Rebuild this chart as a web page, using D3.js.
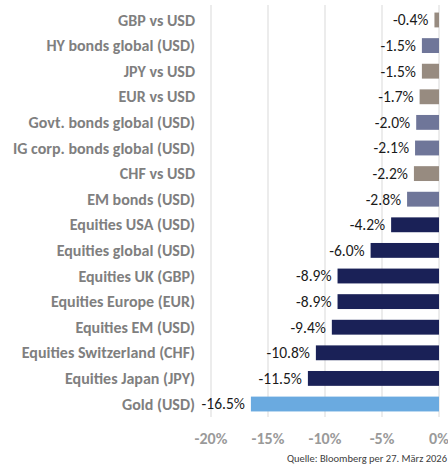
<!DOCTYPE html>
<html>
<head>
<meta charset="utf-8">
<script src="https://cdn.jsdelivr.net/npm/d3@7"></script>
<style>
  body { margin: 0; background: #fff; }
  svg { display: block; font-family: Carlito, Lato, "Open Sans", sans-serif; }
</style>
</head>
<body>
<svg id="svg"></svg>
<script>
const width = 448;
const height = 469;

// data
const categories = [
    "GBP vs USD", "HY bonds global (USD)", "JPY vs USD", "EUR vs USD",
    "Govt. bonds global (USD)", "IG corp. bonds global (USD)", "CHF vs USD",
    "EM bonds (USD)", "Equities USA (USD)", "Equities global (USD)",
    "Equities UK (GBP)", "Equities Europe (EUR)", "Equities EM (USD)",
    "Equities Switzerland (CHF)", "Equities Japan (JPY)", "Gold (USD)"
];
const values = [-0.4, -1.5, -1.5, -1.7, -2.0, -2.1, -2.2, -2.8, -4.2, -6.0, -8.9, -8.9, -9.4, -10.8, -11.5, -16.5];
const groups = ["fx", "bond", "fx", "fx", "bond", "bond", "fx", "bond", "eq", "eq", "eq", "eq", "eq", "eq", "eq", "gold"];
const xTicks = [-20, -15, -10, -5, 0];
const sourceText = "Quelle: Bloomberg per 27. März 2026";

const colours = { fx: "#978b80", bond: "#6f7699", eq: "#1a2157", gold: "#6aaae0" };

const data = categories.map((c, i) => ({ name: c, value: values[i], group: groups[i] }));

// plain hyphen as minus, like the original
const fmt = v => d3.format(".1f")(v).replace("\u2212", "-") + "%";

let svg = d3.select("#svg")
    .attr("width", width)
    .attr("height", height);

const xScale = d3.scaleLinear()
    .domain([-20, 0])
    .range([211, 439]);

const yScale = d3.scaleBand()
    .domain(categories)
    .range([1.8, 422.2])
    .paddingInner(0.42)
    .paddingOuter(0.42);

// gridlines
svg.append("g")
    .selectAll("line")
    .data(xTicks)
    .enter().append("line")
    .attr("x1", d => xScale(d))
    .attr("x2", d => xScale(d))
    .attr("y1", 5)
    .attr("y2", 417)
    .attr("stroke", "#d9d9d9")
    .attr("stroke-width", 1);

// bars
svg.append("g")
    .selectAll("rect")
    .data(data)
    .enter().append("rect")
    .attr("x", d => xScale(d.value))
    .attr("y", d => yScale(d.name))
    .attr("width", d => xScale(0) - xScale(d.value))
    .attr("height", yScale.bandwidth())
    .attr("fill", d => colours[d.group]);

// value labels
svg.append("g")
    .selectAll("text")
    .data(data)
    .enter().append("text")
    .attr("x", d => xScale(d.value) - 6)
    .attr("y", d => yScale(d.name) + yScale.bandwidth() / 2)
    .attr("dy", "0.35em")
    .attr("text-anchor", "end")
    .style("font-size", "15.5px")
    .style("fill", "#1a1a1a")
    .text(d => fmt(d.value));

// category labels
svg.append("g")
    .selectAll("text")
    .data(data)
    .enter().append("text")
    .attr("x", 195)
    .attr("y", d => yScale(d.name) + yScale.bandwidth() / 2)
    .attr("dy", "0.35em")
    .attr("text-anchor", "end")
    .style("font-size", "16px")
    .style("font-weight", "bold")
    .style("fill", "#7f7f7f")
    .text(d => d.name);

// x axis labels
svg.append("g")
    .selectAll("text")
    .data(xTicks)
    .enter().append("text")
    .attr("x", d => xScale(d))
    .attr("y", 438)
    .attr("dy", "0.35em")
    .attr("text-anchor", "middle")
    .style("font-size", "16px")
    .style("font-weight", "bold")
    .style("fill", "#9a9a9a")
    .text(d => d + "%");

// source
svg.append("text")
    .attr("x", 447)
    .attr("y", 462)
    .attr("text-anchor", "end")
    .style("font-size", "10.5px")
    .style("fill", "#404040")
    .text(sourceText);
</script>
</body>
</html>
